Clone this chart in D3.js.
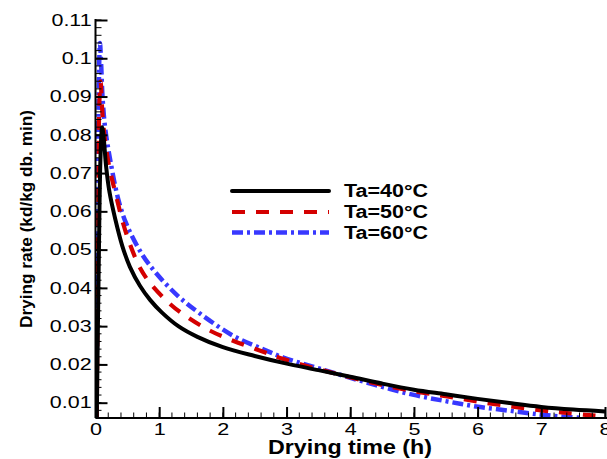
<!DOCTYPE html>
<html>
<head>
<meta charset="utf-8">
<script src="https://cdn.jsdelivr.net/npm/d3@7"></script>
<style>
html,body{margin:0;padding:0;background:#fff;}
svg{display:block;}
text{font-family:"Liberation Sans",Arial,sans-serif;}
</style>
</head>
<body>
<svg id="chart" width="607" height="459"></svg>
<script>
// ---- data ----
const seriesNames = ["Ta=40°C", "Ta=50°C", "Ta=60°C"];
const t40 = [0.02,0.05,0.08,0.105,0.13,0.165,0.22,0.31,0.42,0.54,0.7,0.86,1.04,1.3,1.6,2.0,2.5,2.95,3.5,4.0,4.5,5.0,5.5,6.0,6.5,7.0,7.5,8.0];
const v40 = [0.006,0.045,0.075,0.082,0.079,0.072,0.065,0.058,0.051,0.0455,0.0405,0.0368,0.0336,0.0300,0.0272,0.0245,0.0222,0.0204,0.0185,0.0168,0.015,0.0134,0.0122,0.011,0.0099,0.0089,0.0082,0.0077];
const t50 = [0.02,0.04,0.06,0.08,0.1,0.12,0.17,0.23,0.31,0.44,0.55,0.7,0.86,1.17,1.43,1.8,2.16,2.6,2.95,3.4,3.84,4.4,5.0,5.5,6.0,6.5,7.0,7.4,7.85];
const v50 = [0.006,0.05,0.088,0.094,0.088,0.083,0.076,0.0705,0.065,0.0565,0.051,0.0452,0.0412,0.0358,0.0325,0.0288,0.0262,0.0235,0.0214,0.0192,0.0173,0.015,0.013,0.0117,0.0103,0.0091,0.008,0.0073,0.0066];
const t60 = [0.015,0.03,0.05,0.07,0.09,0.11,0.15,0.23,0.36,0.49,0.73,0.96,1.3,1.64,2.16,2.6,2.95,3.4,3.84,4.4,4.98,5.5,5.98,6.5,6.98,7.3,7.65];
const v60 = [0.006,0.05,0.09,0.104,0.098,0.09,0.082,0.0735,0.063,0.0565,0.0488,0.0437,0.0378,0.0333,0.0275,0.0242,0.0218,0.0195,0.0173,0.0146,0.0121,0.0104,0.009,0.0079,0.0069,0.0064,0.006];
const xTickValues = [0,1,2,3,4,5,6,7,8];
const xTickLabels = ["0","1","2","3","4","5","6","7","8"];
const yTickValues = [0.01,0.02,0.03,0.04,0.05,0.06,0.07,0.08,0.09,0.1,0.11];
const yTickLabels = ["0.01","0.02","0.03","0.04","0.05","0.06","0.07","0.08","0.09","0.1","0.11"];
const xTitle = "Drying time (h)";
const yTitle = "Drying rate (kd/kg db. min)";

// ---- layout ----
const svg = d3.select("#chart");
const x = d3.scaleLinear().domain([0, 8]).range([95.5, 605]);
const y = d3.scaleLinear().domain([0.006, 0.11]).range([418, 20]);

const series = [
  {t: t40, v: v40, color: "#000000", width: 4, dash: null},
  {t: t50, v: v50, color: "#d40000", width: 4.2, dash: "13,11"},
  {t: t60, v: v60, color: "#3838ff", width: 4.5, dash: "11,4,3,4"}
];

svg.append("defs").append("clipPath").attr("id","plotclip")
  .append("rect").attr("x", 95.5).attr("y", 15).attr("width", 520).attr("height", 403.5);

const line = d3.line().x(d => x(d[0])).y(d => y(d[1])).curve(d3.curveCatmullRom.alpha(0.5));

const plot = svg.append("g").attr("clip-path","url(#plotclip)");
series.slice().reverse().forEach(s => {
  const pts = s.t.map((tt,i) => [tt, s.v[i]]);
  plot.append("path").datum(pts)
    .attr("d", line)
    .attr("fill","none")
    .attr("stroke", s.color)
    .attr("stroke-width", s.width)
    .attr("stroke-dasharray", s.dash)
    .attr("stroke-linejoin","round");
});

// minor ticks
const xMinor = d3.range(0, 8.0001, 0.2);
const yMinor = d3.range(0.006, 0.11001, 0.002);
const axG = svg.append("g");
axG.selectAll("line.xm").data(xMinor).enter().append("line")
  .attr("x1", d => x(d)).attr("x2", d => x(d))
  .attr("y1", 418).attr("y2", 412.5)
  .attr("stroke","#000").attr("stroke-width",1);
axG.selectAll("line.ym").data(yMinor).enter().append("line")
  .attr("y1", d => y(d)).attr("y2", d => y(d))
  .attr("x1", 95.5).attr("x2", 101.5)
  .attr("stroke","#000").attr("stroke-width",1);

// axes
const xAxis = d3.axisBottom(x).tickValues(xTickValues)
  .tickFormat((d,i) => xTickLabels[i]).tickSizeInner(-11).tickSizeOuter(0).tickPadding(6);
const gx = svg.append("g").attr("transform","translate(0,418)").call(xAxis);
gx.select(".domain").attr("stroke-width",2).attr("d","M95.5,0H607");
gx.selectAll(".tick line").attr("stroke-width",2);
gx.selectAll(".tick text").attr("font-size","16px").attr("fill","#000")
  .attr("font-family","Liberation Sans, Arial, sans-serif")
  .attr("transform","scale(1.35,1)");

const yAxis = d3.axisLeft(y).tickValues(yTickValues)
  .tickFormat((d,i) => yTickLabels[i]).tickSizeInner(-12).tickSizeOuter(0).tickPadding(3);
const gy = svg.append("g").attr("transform","translate(95.5,0)").call(yAxis);
gy.select(".domain").attr("stroke-width",2).attr("d","M0,418V19");
gy.selectAll(".tick line").attr("stroke-width",2);
gy.selectAll(".tick text").attr("font-size","16.5px").attr("fill","#000")
  .attr("font-family","Liberation Sans, Arial, sans-serif")
  .attr("transform","scale(1.3,1)");

// titles
svg.append("text").attr("x", 350).attr("y", 453.5)
  .attr("text-anchor","middle").attr("font-weight","bold").attr("font-size","20px")
  .attr("textLength", 164).attr("lengthAdjust","spacingAndGlyphs")
  .text(xTitle);
svg.append("text").attr("transform","translate(31.5,219) rotate(-90)")
  .attr("text-anchor","middle").attr("font-weight","bold").attr("font-size","17px")
  .attr("textLength", 218).attr("lengthAdjust","spacingAndGlyphs")
  .text(yTitle);

// legend
const legY = [191, 212, 232.5];
const leg = svg.append("g");
series.forEach((s,i) => {
  leg.append("line").attr("x1",232).attr("x2",329).attr("y1",legY[i]).attr("y2",legY[i])
    .attr("stroke", s.color).attr("stroke-width", s.width)
    .attr("stroke-dasharray", s.dash).attr("stroke-linecap", s.dash ? "butt" : "round");
  leg.append("text").attr("x",344).attr("y",legY[i]).attr("dy","0.36em")
    .attr("font-weight","bold").attr("font-size","18px")
    .attr("textLength",84).attr("lengthAdjust","spacingAndGlyphs")
    .text(seriesNames[i]);
});
</script>
</body>
</html>
